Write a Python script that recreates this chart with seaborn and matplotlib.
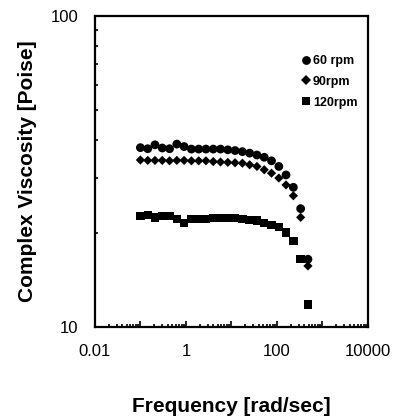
import matplotlib
matplotlib.use("Agg")
import matplotlib.pyplot as plt
import matplotlib.ticker as mticker
import seaborn as sns
import pandas as pd
import numpy as np

# frequency sweep, rad/sec
freq = [0.1, 0.145, 0.209, 0.302, 0.437, 0.631, 0.912, 1.32, 1.91, 2.75, 3.98, 5.75,
        8.32, 12.0, 17.4, 25.1, 36.3, 52.5, 75.9, 110, 158, 229, 331, 479]

# complex viscosity, Poise
visc_60 = [37.7, 37.4, 38.5, 37.6, 37.4, 38.7, 38.0, 37.3, 37.3, 37.3, 37.3, 37.3,
           37.1, 36.9, 36.6, 36.2, 35.7, 35.1, 34.2, 32.8, 30.8, 28.1, 24.0, 16.5]
visc_90 = [34.4, 34.3, 34.3, 34.3, 34.2, 34.3, 34.3, 34.2, 34.2, 34.2, 34.0, 33.9,
           33.8, 33.7, 33.6, 33.2, 32.8, 32.0, 31.2, 30.1, 28.6, 26.4, 22.5, 15.7]
visc_120 = [22.75, 22.9, 22.5, 22.75, 22.75, 22.2, 21.6, 22.2, 22.2, 22.2, 22.4, 22.4,
            22.4, 22.4, 22.2, 22.1, 22.0, 21.6, 21.3, 20.9, 20.1, 18.9, 16.5, 11.8]

labels = ["60 rpm", "90rpm", "120rpm"]

df = pd.concat([
    pd.DataFrame({"freq": freq, "visc": visc_60, "speed": labels[0]}),
    pd.DataFrame({"freq": freq, "visc": visc_90, "speed": labels[1]}),
    pd.DataFrame({"freq": freq, "visc": visc_120, "speed": labels[2]}),
])

sns.set_style("ticks")
plt.rcParams['font.family'] = ['Liberation Sans', 'DejaVu Sans']
plt.rcParams['text.color'] = 'black'
plt.rcParams['axes.labelcolor'] = 'black'

fig = plt.figure(figsize=(3.97, 4.18), dpi=100)
ax = fig.add_axes([0.239, 0.218, 0.688, 0.744])

sns.scatterplot(data=df, x="freq", y="visc", style="speed",
                markers={labels[0]: "o", labels[1]: "D", labels[2]: "s"},
                size="speed", sizes={labels[0]: 40, labels[1]: 22, labels[2]: 36},
                color="black", edgecolor="none", linewidth=0, ax=ax)

ax.set_xscale("log")
ax.set_yscale("log")
ax.set_xlim(0.01, 10000)
ax.set_ylim(10, 100)

ax.xaxis.set_major_locator(mticker.LogLocator(base=10, numticks=10))
ax.xaxis.set_minor_locator(mticker.LogLocator(base=10, subs=np.arange(2, 10), numticks=20))
ax.xaxis.set_major_formatter(mticker.FuncFormatter(
    lambda v, p: ("%g" % v) if round(np.log10(v)) % 2 == 0 else ""))
ax.xaxis.set_minor_formatter(mticker.NullFormatter())
ax.yaxis.set_major_locator(mticker.FixedLocator([10, 100]))
ax.yaxis.set_major_formatter(mticker.FuncFormatter(lambda v, p: "%g" % v))
ax.yaxis.set_minor_formatter(mticker.NullFormatter())

ax.tick_params(which="both", direction="in", width=1.2, labelsize=12,
               colors="black", labelcolor="black")
ax.tick_params(axis="x", pad=12)
ax.tick_params(axis="y", pad=12)
ax.tick_params(which="major", length=4)
ax.tick_params(which="minor", length=2.5)
for s in ax.spines.values():
    s.set_linewidth(1.6)
    s.set_color("black")

ax.set_xlabel("Frequency [rad/sec]", fontsize=15, fontweight="bold", labelpad=28)
ax.set_ylabel("Complex Viscosity [Poise]", fontsize=15, fontweight="bold", labelpad=10)

ax.legend(loc="upper left", bbox_to_anchor=(0.73, 0.89), frameon=False,
          prop={"weight": "bold", "size": 9}, handletextpad=0.1, labelspacing=0.7,
          handlelength=1.0, borderaxespad=0)

fig.savefig("out.png", dpi=100)
